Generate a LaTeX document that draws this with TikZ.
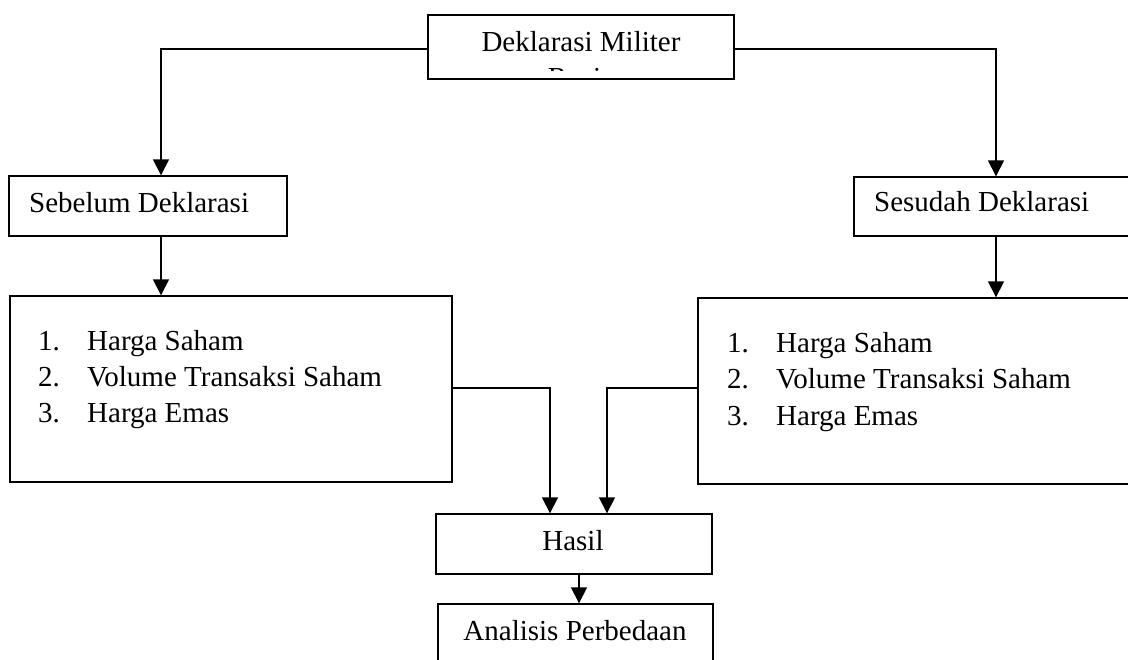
\documentclass[tikz,border=0pt]{standalone}
\usepackage{fontspec}
\setmainfont{Liberation Serif}
\usetikzlibrary{arrows.meta}
\begin{document}
\begin{tikzpicture}[x=1pt,y=-1pt,
  box/.style={draw,line width=1.4pt,rectangle,inner sep=0pt},
  txt/.style={inner sep=0pt,anchor=base west,font=\fontsize{29}{36}\selectfont},
  ctxt/.style={inner sep=0pt,anchor=base,font=\fontsize{29}{36}\selectfont},
  arr/.style={line width=1.6pt,-{Triangle[width=16pt,length=16pt]}}]
\useasboundingbox (0,0) rectangle (1128,660);
\clip (0,0) rectangle (1128,660);
% boxes
\node[box,minimum width=306pt,minimum height=64pt] (top) at (581,47) {};
\node[box,minimum width=278pt,minimum height=60pt] (sebelum) at (148,206) {};
\node[box,minimum width=284pt,minimum height=59pt] (sesudah) at (996,206.5) {};
\node[box,minimum width=442pt,minimum height=186pt] (llist) at (231,389) {};
\node[box,minimum width=442pt,minimum height=186pt] (rlist) at (919,391) {};
\node[box,minimum width=276pt,minimum height=60pt] (hasil) at (574,544) {};
\node[box,minimum width=275pt,minimum height=76pt] (analisis) at (575.5,642) {};
% texts
\node[ctxt] (t1) at (581,52) {Deklarasi Militer};
\begin{scope}
\clip (430,17) rectangle (732,71);
\node[ctxt] (t2) at (581,87.5) {Rusia};
\end{scope}
\node[txt] (tseb) at (29,213) {Sebelum Deklarasi};
\node[txt] (tses) at (874,212) {Sesudah Deklarasi};
\node[txt] (l1n) at (38,351) {1.};
\node[txt] (l1t) at (87,351) {Harga Saham};
\node[txt] (l2n) at (38,387) {2.};
\node[txt] (l2t) at (87,387) {Volume Transaksi Saham};
\node[txt] (l3n) at (38,422) {3.};
\node[txt] (l3t) at (87,422) {Harga Emas};
\node[txt] (r1n) at (727,353) {1.};
\node[txt] (r1t) at (776,353) {Harga Saham};
\node[txt] (r2n) at (727,389) {2.};
\node[txt] (r2t) at (776,389) {Volume Transaksi Saham};
\node[txt] (r3n) at (727,425) {3.};
\node[txt] (r3t) at (776,425) {Harga Emas};
\node[ctxt] (thasil) at (573,550) {Hasil};
\node[ctxt] (tanal) at (575,640) {Analisis Perbedaan};
% connectors
\draw[arr] ([yshift=-2pt]top.west) -| ([xshift=13pt]sebelum.north);
\draw[arr] ([yshift=-2pt]top.east) -| (sesudah.north);
\draw[arr] ([xshift=13pt]sebelum.south) -- ([xshift=13pt]sebelum.south |- llist.north);
\draw[arr] (sesudah.south) -- (sesudah.south |- rlist.north);
\draw[arr] ([yshift=1pt]llist.east) -| ([xshift=-24pt]hasil.north);
\draw[arr] ([yshift=3pt]rlist.west) -| ([xshift=33pt]hasil.north);
\draw[arr] ([xshift=5pt]hasil.south) -- ([xshift=5pt]hasil.south |- analisis.north);
\end{tikzpicture}
\end{document}
